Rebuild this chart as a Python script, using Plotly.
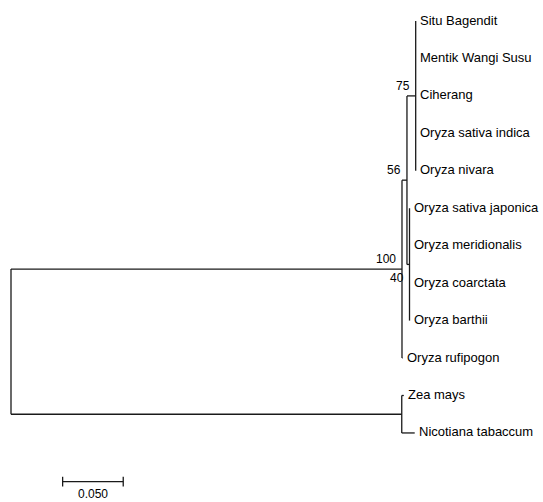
import plotly.graph_objects as go

# ---- data ----
tip_names = [
    "Situ Bagendit", "Mentik Wangi Susu", "Ciherang", "Oryza sativa indica",
    "Oryza nivara", "Oryza sativa japonica", "Oryza meridionalis",
    "Oryza coarctata", "Oryza barthii", "Oryza rufipogon", "Zea mays",
    "Nicotiana tabaccum",
]
internal_names = ["N75", "N40", "N56", "N100", "NZN", "root"]
node_names = tip_names + internal_names
parents = (["N75"] * 5 + ["N40"] * 4 + ["N100", "NZN", "NZN"]
           + ["N56", "N56", "N100", "root", "root", None])
branch_lengths = [0.0, 0.0, 0.0, 0.0, 0.0,
                  0.0, 0.0, 0.0, 0.0,
                  0.0004, 0.0017, 0.0107,
                  0.0072, 0.0021, 0.0041, 0.3226, 0.3224, 0.0]
bootstrap_nodes = ["N75", "N56", "N100", "N40"]
bootstrap_values = [75, 56, 100, 40]
scale_length = 0.05
scale_label = "0.050"

# ---- layout computation ----
idx = {n: i for i, n in enumerate(node_names)}
children = {n: [] for n in node_names}
for n, p in zip(node_names, parents):
    if p is not None:
        children[p].append(n)

xpos = {}
def set_x(n, x0):
    xpos[n] = x0
    for c in children[n]:
        set_x(c, x0 + branch_lengths[idx[c]])
set_x("root", 0.0)

ypos = {}
def set_y(n):
    if not children[n]:
        ypos[n] = tip_names.index(n)
    else:
        ys = [set_y(c) for c in children[n]]
        ypos[n] = (min(ys) + max(ys)) / 2
    return ypos[n]
set_y("root")

lx, ly = [], []
for n, p in zip(node_names, parents):
    if p is not None:
        lx += [xpos[p], xpos[n], None]
        ly += [ypos[n], ypos[n], None]
    if children[n]:
        ys = [ypos[c] for c in children[n]]
        lx += [xpos[n], xpos[n], None]
        ly += [min(ys), max(ys), None]

fig = go.Figure()
fig.add_trace(go.Scatter(x=lx, y=ly, mode="lines",
                         line=dict(color="#1a1a1a", width=1.3),
                         hoverinfo="skip", showlegend=False))

# scale bar
sb_x0 = 0.0426
sb_y = 12.30
sb_x1 = sb_x0 + scale_length
fig.add_trace(go.Scatter(
    x=[sb_x0, sb_x1, None, sb_x0, sb_x0, None, sb_x1, sb_x1],
    y=[sb_y, sb_y, None, sb_y - 0.13, sb_y + 0.13, None, sb_y - 0.13, sb_y + 0.13],
    mode="lines", line=dict(color="#1a1a1a", width=1.3),
    hoverinfo="skip", showlegend=False))

ann = []
for name in tip_names:
    ann.append(dict(x=xpos[name], y=ypos[name], text=name, showarrow=False,
                    xanchor="left", yanchor="middle", xshift=2.5, yshift=1,
                    font=dict(family="Liberation Sans, Arial", size=13, color="black")))
for n, v in zip(bootstrap_nodes, bootstrap_values):
    below = (n == "N40")
    ann.append(dict(x=xpos[n], y=ypos[n], text=str(v), showarrow=False,
                    xanchor="right", yanchor="middle", xshift=-4,
                    yshift=(-14 if below else 10),
                    font=dict(family="Liberation Sans, Arial", size=12, color="black")))
ann.append(dict(x=(sb_x0 + sb_x1) / 2, y=sb_y, text=scale_label, showarrow=False,
                xanchor="center", yanchor="middle", yshift=-12,
                font=dict(family="Liberation Sans, Arial", size=12, color="black")))

px_per_unit = 1212.0
fig.update_layout(
    width=543, height=502,
    margin=dict(l=0, r=0, t=0, b=0),
    paper_bgcolor="white", plot_bgcolor="white",
    xaxis=dict(range=[-11 / px_per_unit, (543 - 11) / px_per_unit],
               visible=False, fixedrange=True),
    yaxis=dict(range=[(502 - 21) / 37.45, -21 / 37.45],
               visible=False, fixedrange=True),
    annotations=ann,
)
fig.write_html("out.html", config={"displayModeBar": False},
               post_script="document.body.style.margin='0';document.body.style.overflow='hidden';")
